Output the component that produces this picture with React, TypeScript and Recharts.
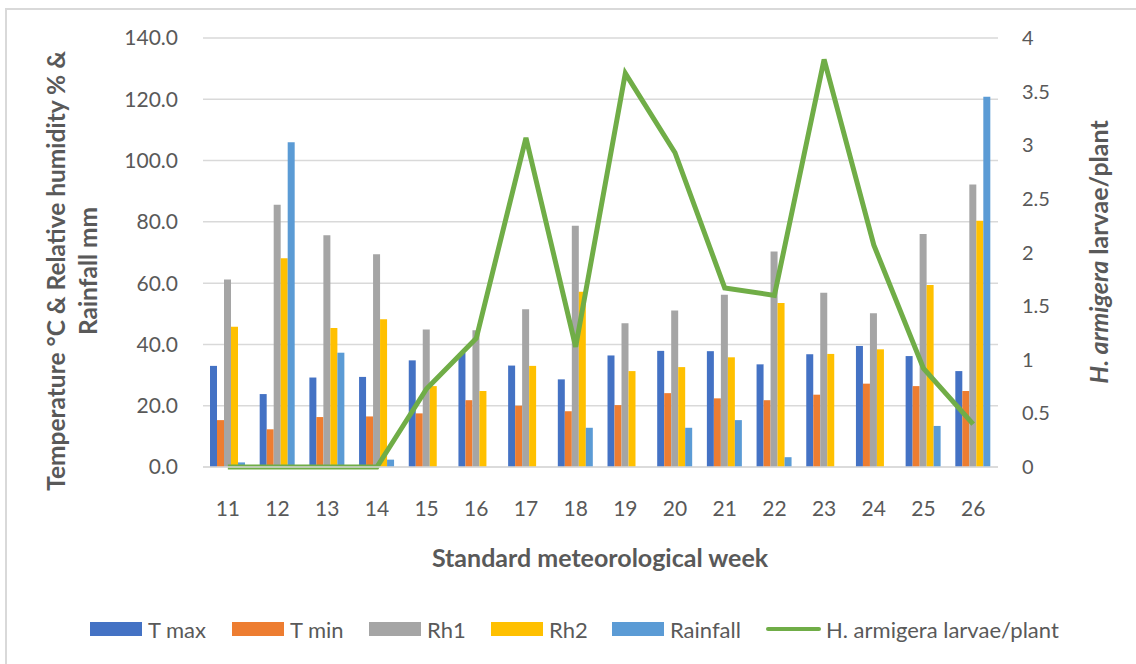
import { Bar, CartesianGrid, ComposedChart, Line, XAxis, YAxis } from "recharts";

const weeks = ["11", "12", "13", "14", "15", "16", "17", "18", "19", "20", "21", "22", "23", "24", "25", "26"];
const tMax = [33.0, 23.8, 29.2, 29.4, 34.8, 37.2, 33.1, 28.6, 36.4, 37.9, 37.8, 33.5, 36.8, 39.5, 36.2, 31.3];
const tMin = [15.3, 12.3, 16.3, 16.5, 17.5, 21.8, 20.0, 18.2, 20.2, 24.1, 22.4, 21.8, 23.6, 27.2, 26.4, 24.8];
const rh1 = [61.2, 85.6, 75.6, 69.4, 44.9, 44.6, 51.5, 78.7, 46.9, 51.1, 56.2, 70.3, 56.9, 50.2, 76.0, 92.2];
const rh2 = [45.8, 68.1, 45.4, 48.2, 26.4, 24.8, 33.0, 57.2, 31.3, 32.6, 35.8, 53.5, 36.9, 38.4, 59.4, 80.4];
const rainfall = [1.5, 106.0, 37.3, 2.4, 0, 0, 0, 12.8, 0, 12.8, 15.3, 3.2, 0, 0, 13.4, 120.8];
const larvae = [0, 0, 0, 0, 0.73, 1.2, 3.07, 1.12, 3.67, 2.93, 1.67, 1.6, 3.8, 2.07, 0.92, 0.4];

const leftTicks = [0, 20, 40, 60, 80, 100, 120, 140];
const rightTicks = [0, 0.5, 1, 1.5, 2, 2.5, 3, 3.5, 4];

const data = weeks.map((week, i) => ({
  week,
  tMax: tMax[i],
  tMin: tMin[i],
  rh1: rh1[i],
  rh2: rh2[i],
  rainfall: rainfall[i],
  larvae: larvae[i],
}));

const FONT = "Lato, 'Open Sans', sans-serif";
const TEXT = "#595959";
const GRID = "#D9D9D9";

const legendItems = [
  { label: "T max", color: "#4472C4", line: false, x: 90 },
  { label: "T min", color: "#ED7D31", line: false, x: 232 },
  { label: "Rh1", color: "#A5A5A5", line: false, x: 369 },
  { label: "Rh2", color: "#FFC000", line: false, x: 491 },
  { label: "Rainfall", color: "#5B9BD5", line: false, x: 612 },
  { label: "H. armigera larvae/plant", color: "#70AD47", line: true, x: 766 },
];

export default function App() {
  return (
    <div
      style={{
        position: "absolute",
        left: 0,
        top: 0,
        width: 1136,
        height: 664,
        background: "#fff",
        fontFamily: FONT,
        overflow: "hidden",
      }}
    >
      {/* partial frame, top and left edges only */}
      <div
        style={{
          position: "absolute",
          left: 5,
          top: 8,
          width: 1200,
          height: 700,
          borderLeft: `2px solid ${GRID}`,
          borderTop: `2px solid ${GRID}`,
        }}
      />
      <ComposedChart
        width={1136}
        height={664}
        data={data}
        margin={{ top: 38, right: 58, left: 0, bottom: 137 }}
        barSize={7}
        barGap={0}
      >
        <CartesianGrid vertical={false} stroke={GRID} strokeWidth={1.5} yAxisId="left" />
        <XAxis
          dataKey="week"
          height={60}
          tickSize={0}
          tickMargin={34}
          axisLine={{ stroke: GRID, strokeWidth: 1.5 }}
          tickLine={false}
          tick={{ fontSize: 21, fill: TEXT, fontFamily: FONT }}
        />
        <YAxis
          yAxisId="left"
          width={203}
          domain={[0, 140]}
          ticks={leftTicks}
          tickFormatter={(v) => Number(v).toFixed(1)}
          axisLine={false}
          tickLine={false}
          tickSize={0}
          tickMargin={25}
          tick={{ fontSize: 21, fill: TEXT, fontFamily: FONT }}
        />
        <YAxis
          yAxisId="right"
          orientation="right"
          width={80}
          domain={[0, 4]}
          ticks={rightTicks}
          axisLine={false}
          tickLine={false}
          tickSize={0}
          tickMargin={24}
          tick={{ fontSize: 20, fill: TEXT, fontFamily: FONT }}
        />
        <Bar yAxisId="left" dataKey="tMax" fill="#4472C4" isAnimationActive={false} />
        <Bar yAxisId="left" dataKey="tMin" fill="#ED7D31" isAnimationActive={false} />
        <Bar yAxisId="left" dataKey="rh1" fill="#A5A5A5" isAnimationActive={false} />
        <Bar yAxisId="left" dataKey="rh2" fill="#FFC000" isAnimationActive={false} />
        <Bar yAxisId="left" dataKey="rainfall" fill="#5B9BD5" isAnimationActive={false} />
        <Line
          yAxisId="right"
          type="linear"
          dataKey="larvae"
          stroke="#70AD47"
          strokeWidth={5}
          dot={false}
          activeDot={false}
          isAnimationActive={false}
        />
      </ComposedChart>

      {/* left axis title */}
      <div
        style={{
          position: "absolute",
          left: 73 - 260,
          top: 271 - 33,
          width: 520,
          height: 66,
          transform: "rotate(-90deg)",
          textAlign: "center",
          fontWeight: 700,
          fontSize: 24.5,
          lineHeight: "32px",
          color: TEXT,
          whiteSpace: "nowrap",
        }}
      >
        Temperature °C &amp; Relative humidity % &amp;
        <br />
        Rainfall mm
      </div>

      {/* right axis title */}
      <div
        style={{
          position: "absolute",
          left: 1098 - 170,
          top: 252 - 17,
          width: 340,
          height: 34,
          transform: "rotate(-90deg)",
          textAlign: "center",
          fontWeight: 700,
          fontSize: 25,
          lineHeight: "34px",
          color: TEXT,
          whiteSpace: "nowrap",
        }}
      >
        <i>H. armigera</i> larvae/plant
      </div>

      {/* x axis title */}
      <div
        style={{
          position: "absolute",
          left: 0,
          top: 557 - 17,
          width: 1200,
          height: 34,
          textAlign: "center",
          fontWeight: 700,
          fontSize: 25,
          lineHeight: "34px",
          color: TEXT,
        }}
      >
        Standard meteorological week
      </div>

      {/* legend */}
      {legendItems.map((item) => (
        <div
          key={item.label}
          style={{
            position: "absolute",
            left: item.x,
            top: 629 - 15,
            height: 30,
            display: "flex",
            alignItems: "center",
            fontSize: 22,
            color: TEXT,
            whiteSpace: "nowrap",
          }}
        >
          <span
            style={{
              display: "inline-block",
              width: item.line ? 55 : 52,
              height: item.line ? 4 : 14,
              borderRadius: item.line ? 2 : 0,
              background: item.color,
              marginRight: item.line ? 5 : 6,
            }}
          />
          <span>{item.label}</span>
        </div>
      ))}
    </div>
  );
}
